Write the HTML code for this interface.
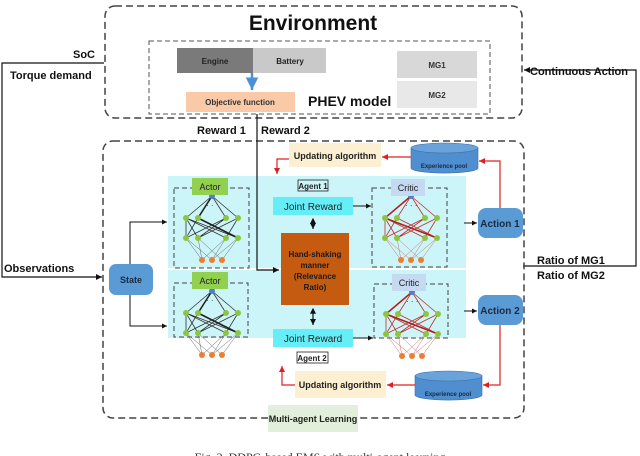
<!DOCTYPE html>
<html><head><meta charset="utf-8"><style>
html,body{margin:0;padding:0;background:#fff;}
svg{display:block;font-family:"Liberation Sans",sans-serif;}
</style></head><body>
<svg width="640" height="456" viewBox="0 0 640 456" xmlns="http://www.w3.org/2000/svg">
<defs>
<marker id="ak" markerWidth="6" markerHeight="6" refX="5" refY="3" orient="auto"><path d="M0,0.5 L5,3 L0,5.5z" fill="#111"/></marker>
<marker id="ar" markerWidth="6" markerHeight="6" refX="5" refY="3" orient="auto"><path d="M0,0.5 L5,3 L0,5.5z" fill="#e02020"/></marker>
<marker id="ab" markerWidth="6" markerHeight="6" refX="5" refY="3" orient="auto"><path d="M0,0.5 L5,3 L0,5.5z" fill="#4a90d9"/></marker>
<marker id="aks" markerWidth="6" markerHeight="6" refX="1" refY="3" orient="auto"><path d="M5,0.5 L0,3 L5,5.5z" fill="#111"/></marker>
<g id="netA">
 <g stroke="#333" stroke-width="0.8">
 <path d="M38,8 L12,30 M38,8 L24,30 M38,8 L52,30 M38,8 L64,30"/>
 <path d="M12,30 L12,50 M12,30 L24,50 M12,30 L52,50 M12,30 L64,50 M24,30 L12,50 M24,30 L64,50 M52,30 L12,50 M52,30 L24,50 M64,30 L24,50 M64,30 L52,50" />
 </g>
 <g stroke="#222" stroke-width="1.6"><path d="M24,30 L64,50 M38,8 L24,30"/></g>
 <g stroke="#666" stroke-width="0.5"><path d="M12,50 L28,72 M12,50 L38,72 M24,50 L28,72 M24,50 L48,72 M52,50 L38,72 M52,50 L28,72 M64,50 L48,72 M64,50 L38,72"/></g>
 <circle cx="38" cy="8" r="3" fill="#4a7fd6"/>
 <g fill="#8cc63f"><circle cx="12" cy="30" r="3"/><circle cx="24" cy="30" r="3"/><circle cx="52" cy="30" r="3"/><circle cx="64" cy="30" r="3"/><circle cx="12" cy="50" r="3"/><circle cx="24" cy="50" r="3"/><circle cx="52" cy="50" r="3"/><circle cx="64" cy="50" r="3"/></g>
 <g fill="#ee7d31"><circle cx="28" cy="72" r="3"/><circle cx="38" cy="72" r="3"/><circle cx="48" cy="72" r="3"/></g>
 <text x="32" y="20" font-size="8" fill="#333">· ·</text>
</g>
<g id="netC">
 <g stroke="#c0302a" stroke-width="0.8">
 <path d="M38,8 L12,30 M38,8 L24,30 M38,8 L52,30 M38,8 L64,30"/>
 <path d="M12,30 L12,50 M12,30 L24,50 M12,30 L52,50 M12,30 L64,50 M24,30 L12,50 M24,30 L64,50 M52,30 L12,50 M52,30 L24,50 M64,30 L24,50 M64,30 L52,50"/>
 </g>
 <g stroke="#b02020" stroke-width="1.5"><path d="M12,30 L64,50 M38,8 L12,30"/></g>
 <g stroke="#d07070" stroke-width="0.5"><path d="M12,50 L28,72 M12,50 L38,72 M24,50 L28,72 M24,50 L48,72 M52,50 L38,72 M52,50 L28,72 M64,50 L48,72 M64,50 L38,72"/></g>
 <circle cx="38" cy="8" r="3" fill="#4a7fd6"/>
 <g fill="#8cc63f"><circle cx="12" cy="30" r="3"/><circle cx="24" cy="30" r="3"/><circle cx="52" cy="30" r="3"/><circle cx="64" cy="30" r="3"/><circle cx="12" cy="50" r="3"/><circle cx="24" cy="50" r="3"/><circle cx="52" cy="50" r="3"/><circle cx="64" cy="50" r="3"/></g>
 <g fill="#ee7d31"><circle cx="28" cy="72" r="3"/><circle cx="38" cy="72" r="3"/><circle cx="48" cy="72" r="3"/></g>
 <text x="32" y="20" font-size="8" fill="#333">· · ·</text>
</g>
</defs>

<!-- Environment -->
<rect x="105" y="6" width="417" height="112" rx="10" fill="none" stroke="#444" stroke-width="1.5" stroke-dasharray="7,4"/>
<text x="313" y="30" font-size="21" font-weight="bold" text-anchor="middle" fill="#111">Environment</text>
<rect x="149" y="41" width="341" height="73" fill="none" stroke="#555" stroke-width="1" stroke-dasharray="5,3"/>
<rect x="177" y="48" width="76" height="25" fill="#7a7a7a"/>
<rect x="253" y="48" width="73" height="25" fill="#c9c9c9"/>
<text x="215" y="64" font-size="8" font-weight="bold" text-anchor="middle" fill="#222">Engine</text>
<text x="290" y="64" font-size="8" font-weight="bold" text-anchor="middle" fill="#222">Battery</text>
<line x1="252" y1="73" x2="252" y2="90" stroke="#4a90d9" stroke-width="2.5" marker-end="url(#ab)"/>
<rect x="186" y="92" width="109" height="20" fill="#f9c9a8"/>
<text x="240" y="105" font-size="8" font-weight="bold" text-anchor="middle" fill="#333">Objective function</text>
<text x="308" y="106" font-size="14" font-weight="bold" fill="#111">PHEV model</text>
<rect x="397" y="51" width="80" height="27" fill="#d8d8d8"/>
<rect x="397" y="81" width="80" height="27" fill="#e8e8e8"/>
<text x="437" y="68" font-size="8" font-weight="bold" text-anchor="middle" fill="#333">MG1</text>
<text x="437" y="98" font-size="8" font-weight="bold" text-anchor="middle" fill="#333">MG2</text>

<!-- left inputs -->
<text x="95" y="58" font-size="11" font-weight="bold" text-anchor="end" fill="#111">SoC</text>
<text x="10" y="79" font-size="11" font-weight="bold" fill="#111">Torque demand</text>
<polyline points="104,63 2,63 2,277 102,277" fill="none" stroke="#111" stroke-width="1.2" marker-end="url(#ak)"/>
<text x="4" y="272" font-size="11" font-weight="bold" fill="#111">Observations</text>

<!-- right -->
<text x="530" y="75" font-size="11" font-weight="bold" fill="#111">Continuous Action</text>
<polyline points="523,266 636,266 636,70 524,70" fill="none" stroke="#111" stroke-width="1.2" marker-end="url(#ak)"/>
<text x="537" y="264" font-size="11" font-weight="bold" fill="#111">Ratio of MG1</text>
<text x="537" y="279" font-size="11" font-weight="bold" fill="#111">Ratio of MG2</text>

<!-- reward line -->
<text x="197" y="134" font-size="11" font-weight="bold" fill="#111">Reward 1</text>
<text x="261" y="134" font-size="11" font-weight="bold" fill="#111">Reward 2</text>

<!-- Multi-agent box -->
<rect x="103" y="141" width="421" height="277" rx="10" fill="none" stroke="#444" stroke-width="1.5" stroke-dasharray="7,4"/>

<!-- cyan regions -->
<rect x="168" y="176" width="298" height="92" fill="#ccf5f9"/>
<rect x="168" y="270" width="298" height="68" fill="#ccf5f9"/>

<polyline points="257,114 257,270 279,270" fill="none" stroke="#111" stroke-width="1.2" marker-end="url(#ak)"/>

<!-- actor/critic boxes -->
<rect x="174" y="188" width="75" height="80" fill="none" stroke="#444" stroke-dasharray="5,3"/>
<rect x="174" y="283" width="74" height="54" fill="none" stroke="#444" stroke-dasharray="5,3"/>
<rect x="372" y="188" width="75" height="79" fill="none" stroke="#444" stroke-dasharray="5,3"/>
<rect x="374" y="284" width="74" height="54" fill="none" stroke="#444" stroke-dasharray="5,3"/>
<use href="#netA" x="174" y="188"/>
<use href="#netA" x="174" y="283"/>
<use href="#netC" x="373" y="188"/>
<use href="#netC" x="374" y="284"/>
<rect x="192" y="178" width="36" height="17" fill="#92d050"/>
<text x="210" y="190" font-size="9" text-anchor="middle" fill="#222">Actor</text>
<rect x="192" y="272" width="36" height="17" fill="#92d050"/>
<text x="210" y="284" font-size="9" text-anchor="middle" fill="#222">Actor</text>
<rect x="391" y="179" width="34" height="17" fill="#c5d9f1"/>
<text x="408" y="191" font-size="9" text-anchor="middle" fill="#222">Critic</text>
<rect x="392" y="274" width="34" height="17" fill="#c5d9f1"/>
<text x="409" y="286" font-size="9" text-anchor="middle" fill="#222">Critic</text>

<!-- agent labels -->
<rect x="298" y="180" width="30" height="11" fill="none" stroke="#222" stroke-width="0.8"/>
<text x="313" y="189" font-size="8" font-weight="bold" text-anchor="middle" fill="#222">Agent 1</text>
<rect x="297" y="352" width="31" height="11" fill="none" stroke="#222" stroke-width="0.8"/>
<text x="312" y="361" font-size="8" font-weight="bold" text-anchor="middle" fill="#222">Agent 2</text>

<!-- joint rewards -->
<rect x="273" y="197" width="80" height="18" fill="#66eef8"/>
<text x="313" y="210" font-size="10" text-anchor="middle" fill="#222">Joint Reward</text>
<rect x="273" y="329" width="80" height="18" fill="#66eef8"/>
<text x="313" y="342" font-size="10" text-anchor="middle" fill="#222">Joint Reward</text>
<line x1="353" y1="206" x2="371" y2="206" stroke="#111" marker-end="url(#ak)"/>
<line x1="353" y1="338" x2="373" y2="338" stroke="#111" marker-end="url(#ak)"/>

<rect x="281" y="233" width="68" height="72" fill="#c55a11"/>
<g font-size="8" font-weight="bold" text-anchor="middle" fill="#1a1a1a">
<text x="315" y="257">Hand-shaking</text><text x="315" y="268">manner</text><text x="315" y="279">(Relevance</text><text x="315" y="290">Ratio)</text></g>
<line x1="313" y1="219" x2="313" y2="229" stroke="#111" stroke-width="1.2" marker-start="url(#aks)" marker-end="url(#ak)"/>
<line x1="313" y1="309" x2="313" y2="325" stroke="#111" stroke-width="1.2" marker-start="url(#aks)" marker-end="url(#ak)"/>

<!-- state -->
<rect x="109" y="264" width="44" height="31" rx="7" fill="#5b9bd5"/>
<text x="131" y="283" font-size="9" font-weight="bold" text-anchor="middle" fill="#1a2a40">State</text>
<polyline points="130,264 130,222 167,222" fill="none" stroke="#111" marker-end="url(#ak)"/>
<polyline points="130,295 130,326 167,326" fill="none" stroke="#111" marker-end="url(#ak)"/>

<!-- actions -->
<rect x="478" y="208" width="45" height="30" rx="8" fill="#5b9bd5"/>
<text x="500" y="227" font-size="10" font-weight="bold" text-anchor="middle" fill="#1a2a40">Action 1</text>
<rect x="478" y="295" width="45" height="30" rx="8" fill="#5b9bd5"/>
<text x="500" y="314" font-size="10" font-weight="bold" text-anchor="middle" fill="#1a2a40">Action 2</text>
<line x1="464" y1="223" x2="477" y2="223" stroke="#111" marker-end="url(#ak)"/>
<line x1="464" y1="311" x2="477" y2="311" stroke="#111" marker-end="url(#ak)"/>

<!-- updating & pools -->
<rect x="289" y="143" width="92" height="24" fill="#fdf0d2"/>
<text x="335" y="159" font-size="9" font-weight="bold" text-anchor="middle" fill="#222">Updating algorithm</text>
<rect x="295" y="371" width="91" height="27" fill="#fdf0d2"/>
<text x="340" y="388" font-size="9" font-weight="bold" text-anchor="middle" fill="#222">Updating algorithm</text>
<g fill="#4f8fd0" stroke="#3a70aa" stroke-width="0.6">
<path d="M411,148 L411,168 A33,5 0 0 0 478,168 L478,148z"/>
<ellipse cx="444.5" cy="148" rx="33.5" ry="5" fill="#6aa3dc"/>
<path d="M415,376 L415,395 A33,5 0 0 0 482,395 L482,376z"/>
<ellipse cx="448.5" cy="376" rx="33.5" ry="5" fill="#6aa3dc"/>
</g>
<text x="444" y="168" font-size="6" font-weight="bold" text-anchor="middle" fill="#1a2a40">Experience pool</text>
<text x="448" y="396" font-size="6" font-weight="bold" text-anchor="middle" fill="#1a2a40">Experience pool</text>

<g fill="none" stroke="#e02020" stroke-width="1.2">
<polyline points="500,208 500,161 479,161" marker-end="url(#ar)"/>
<line x1="411" y1="157" x2="382" y2="157" marker-end="url(#ar)"/>
<polyline points="289,159 277,159 277,174" marker-end="url(#ar)"/>
<polyline points="500,325 500,385 483,385" marker-end="url(#ar)"/>
<line x1="415" y1="385" x2="387" y2="385" marker-end="url(#ar)"/>
<polyline points="295,385 282,385 282,366" marker-end="url(#ar)"/>
</g>

<rect x="268" y="405" width="90" height="27" fill="#e2efda"/>
<text x="313" y="422" font-size="9" font-weight="bold" text-anchor="middle" fill="#222">Multi-agent Learning</text>

<text x="320" y="461" font-size="12" text-anchor="middle" fill="#333" font-family="Liberation Serif, serif">Fig. 2. DDPG-based EMS with multi-agent learning</text>
</svg>
</body></html>
